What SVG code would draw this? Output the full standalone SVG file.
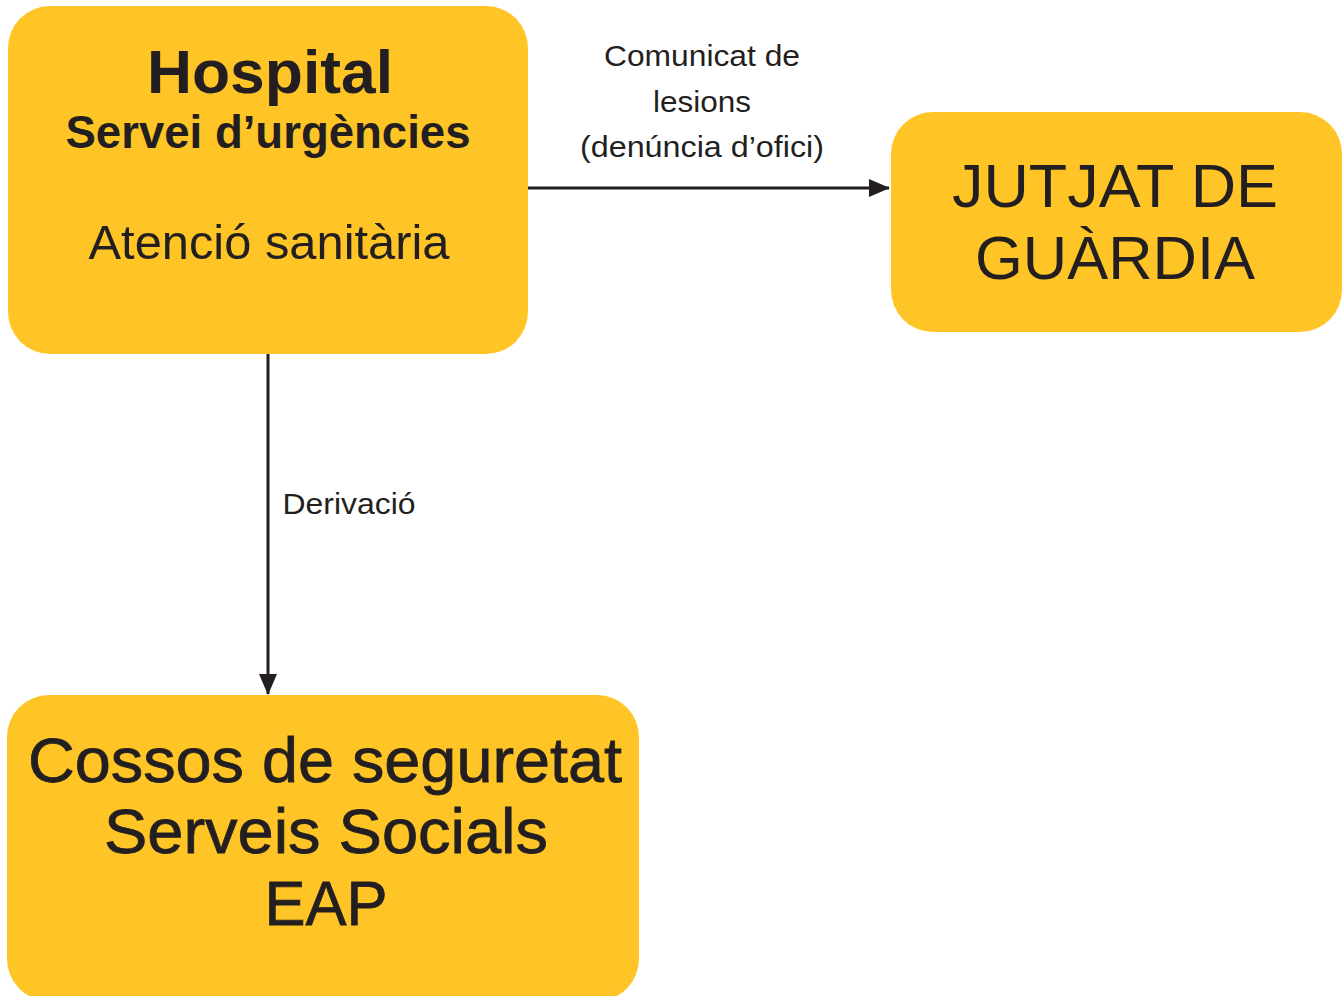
<svg xmlns="http://www.w3.org/2000/svg" width="1342" height="996" viewBox="0 0 1342 996">
<style>
.box{fill:#FFC425}
.t{font-family:"Liberation Sans",Arial,sans-serif;fill:#231F20;text-anchor:middle}
.edge{stroke:#231F20;stroke-width:3;fill:none}
</style>
<defs>
<marker id="ah" markerUnits="userSpaceOnUse" markerWidth="22" markerHeight="18" refX="20" refY="9" orient="auto">
<path d="M0,0 L21,9 L0,18 Z" fill="#231F20"/>
</marker>
</defs>
<rect width="1342" height="996" fill="#fff"/>
<g id="connectors">
<line class="edge" x1="528" y1="188" x2="889" y2="188" marker-end="url(#ah)"/>
<line class="edge" x1="268" y1="354" x2="268" y2="694" marker-end="url(#ah)"/>
<text class="t" x="702" y="66" font-size="29" textLength="196" lengthAdjust="spacingAndGlyphs">Comunicat de</text>
<text class="t" x="702" y="112" font-size="29" textLength="98" lengthAdjust="spacingAndGlyphs">lesions</text>
<text class="t" x="702" y="157" font-size="29" textLength="244" lengthAdjust="spacingAndGlyphs">(denúncia d’ofici)</text>
<text class="t" x="349" y="514" font-size="29" textLength="133" lengthAdjust="spacingAndGlyphs">Derivació</text>
</g>
<g id="hospital">
<rect class="box" x="8" y="6" width="520" height="348" rx="42"/>
<text class="t" x="270" y="93" font-size="62" font-weight="bold" textLength="246" lengthAdjust="spacingAndGlyphs">Hospital</text>
<text class="t" x="268" y="148" font-size="46" textLength="405" lengthAdjust="spacingAndGlyphs" style="font-weight:bold;stroke:#FFC425;stroke-width:0.8;paint-order:stroke">Servei d’urgències</text>
<text class="t" x="269" y="259" font-size="49" textLength="361" lengthAdjust="spacingAndGlyphs">Atenció sanitària</text>
</g>
<g id="jutjat">
<rect class="box" x="891" y="112" width="451" height="220" rx="42"/>
<text class="t" x="1115" y="207" font-size="62" textLength="326" lengthAdjust="spacingAndGlyphs">JUTJAT DE</text>
<text class="t" x="1115" y="279" font-size="62" textLength="280" lengthAdjust="spacingAndGlyphs">GUÀRDIA</text>
</g>
<g id="cossos">
<rect class="box" x="7" y="695" width="632" height="306" rx="42"/>
<text class="t" x="325" y="782" font-size="63" textLength="594" lengthAdjust="spacingAndGlyphs" style="stroke:#231F20;stroke-width:0.8">Cossos de seguretat</text>
<text class="t" x="326" y="853" font-size="63" textLength="444" lengthAdjust="spacingAndGlyphs" style="stroke:#231F20;stroke-width:0.8">Serveis Socials</text>
<text class="t" x="326" y="925" font-size="63" textLength="123" lengthAdjust="spacingAndGlyphs" style="stroke:#231F20;stroke-width:0.8">EAP</text>
</g>
</svg>
